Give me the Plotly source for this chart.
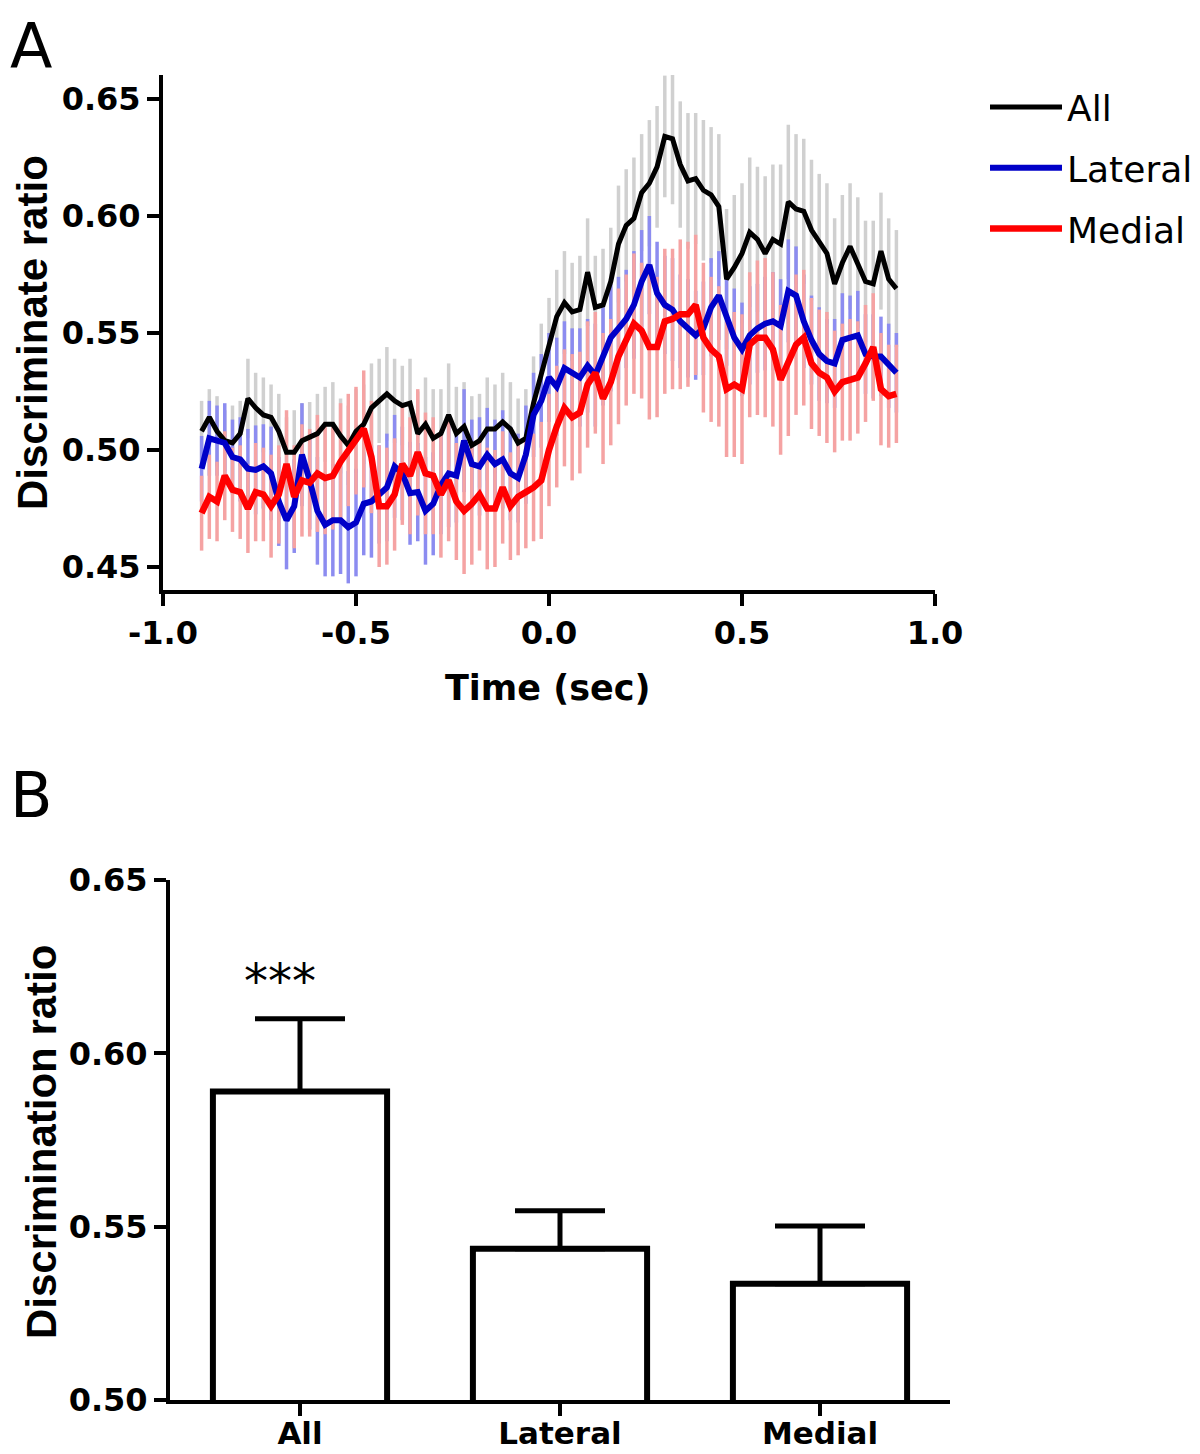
import plotly.graph_objects as go

# ---------------- Panel A data ----------------
TIME = [-0.90, -0.88, -0.86, -0.84, -0.82, -0.80, -0.78, -0.76, -0.74, -0.72,
        -0.70, -0.68, -0.66, -0.64, -0.62, -0.60, -0.58, -0.56, -0.54, -0.52,
        -0.50, -0.48, -0.46, -0.44, -0.42, -0.40, -0.38, -0.36, -0.34, -0.32,
        -0.30, -0.28, -0.26, -0.24, -0.22, -0.20, -0.18, -0.16, -0.14, -0.12,
        -0.10, -0.08, -0.06, -0.04, -0.02, 0.00, 0.02, 0.04, 0.06, 0.08,
        0.10, 0.12, 0.14, 0.16, 0.18, 0.20, 0.22, 0.24, 0.26, 0.28,
        0.30, 0.32, 0.34, 0.36, 0.38, 0.40, 0.42, 0.44, 0.46, 0.48,
        0.50, 0.52, 0.54, 0.56, 0.58, 0.60, 0.62, 0.64, 0.66, 0.68,
        0.70, 0.72, 0.74, 0.76, 0.78, 0.80, 0.82, 0.84, 0.86, 0.88,
        0.90]

ALL_MEAN = [0.508, 0.514, 0.508, 0.504, 0.503, 0.507, 0.522, 0.518, 0.515, 0.514,
            0.508, 0.499, 0.499, 0.504, 0.5055, 0.507, 0.511, 0.511, 0.506, 0.502,
            0.508, 0.511, 0.518, 0.521, 0.524, 0.521, 0.519, 0.520, 0.507, 0.511,
            0.505, 0.507, 0.515, 0.507, 0.510, 0.502, 0.504, 0.509, 0.509, 0.512,
            0.509, 0.503, 0.505, 0.520, 0.532, 0.544, 0.557, 0.563, 0.559, 0.560,
            0.576, 0.561, 0.562, 0.572, 0.588, 0.596, 0.599, 0.610, 0.614, 0.621,
            0.634, 0.633, 0.622, 0.615, 0.616, 0.611, 0.609, 0.604, 0.573, 0.578,
            0.584, 0.593, 0.590, 0.584, 0.590, 0.588, 0.606, 0.603, 0.602, 0.594,
            0.589, 0.584, 0.571, 0.580, 0.587, 0.580, 0.572, 0.571, 0.585, 0.573,
            0.569]

ALL_SEM = [0.013, 0.012, 0.015, 0.013, 0.016, 0.014, 0.017, 0.015, 0.016, 0.014,
           0.016, 0.015, 0.018, 0.016, 0.015, 0.017, 0.016, 0.018, 0.016, 0.017,
           0.018, 0.017, 0.019, 0.018, 0.020, 0.018, 0.017, 0.019, 0.018, 0.020,
           0.021, 0.019, 0.022, 0.020, 0.019, 0.021, 0.020, 0.022, 0.019, 0.021,
           0.020, 0.019, 0.021, 0.020, 0.022, 0.021, 0.020, 0.022, 0.021, 0.023,
           0.023, 0.022, 0.024, 0.023, 0.025, 0.024, 0.026, 0.025, 0.027, 0.026,
           0.026, 0.028, 0.027, 0.029, 0.028, 0.030, 0.029, 0.031, 0.030, 0.031,
           0.030, 0.032, 0.031, 0.033, 0.032, 0.034, 0.033, 0.032, 0.031, 0.030,
           0.029, 0.030, 0.028, 0.029, 0.027, 0.028, 0.026, 0.027, 0.025, 0.026,
           0.025]

LATERAL_MEAN = [0.492, 0.505, 0.504, 0.503, 0.497, 0.496, 0.492, 0.4915, 0.493, 0.490,
                0.478, 0.470, 0.476, 0.498, 0.487, 0.474, 0.468, 0.470, 0.470, 0.467,
                0.469, 0.477, 0.478, 0.481, 0.484, 0.493, 0.490, 0.4815, 0.482, 0.474,
                0.477, 0.485, 0.490, 0.489, 0.504, 0.494, 0.493, 0.498, 0.494, 0.496,
                0.490, 0.488, 0.498, 0.515, 0.521, 0.531, 0.527, 0.535, 0.533, 0.531,
                0.536, 0.532, 0.540, 0.548, 0.552, 0.556, 0.562, 0.572, 0.579, 0.567,
                0.562, 0.560, 0.555, 0.552, 0.549, 0.552, 0.561, 0.566, 0.556, 0.548,
                0.543, 0.549, 0.552, 0.554, 0.555, 0.553, 0.568, 0.566, 0.555, 0.547,
                0.541, 0.538, 0.537, 0.547, 0.548, 0.549, 0.541, 0.540, 0.540, 0.536,
                0.533]

LATERAL_SEM = [0.014, 0.016, 0.015, 0.017, 0.016, 0.018, 0.017, 0.019, 0.018, 0.020,
               0.019, 0.021, 0.020, 0.022, 0.021, 0.023, 0.022, 0.024, 0.023, 0.024,
               0.023, 0.022, 0.024, 0.021, 0.023, 0.022, 0.020, 0.022, 0.021, 0.023,
               0.022, 0.021, 0.023, 0.020, 0.022, 0.019, 0.021, 0.020, 0.019, 0.021,
               0.020, 0.019, 0.021, 0.018, 0.020, 0.019, 0.021, 0.020, 0.019, 0.021,
               0.020, 0.022, 0.021, 0.023, 0.022, 0.021, 0.023, 0.022, 0.021, 0.022,
               0.021, 0.022, 0.020, 0.021, 0.019, 0.020, 0.021, 0.019, 0.020, 0.021,
               0.020, 0.021, 0.019, 0.020, 0.021, 0.020, 0.022, 0.021, 0.020, 0.019,
               0.020, 0.018, 0.019, 0.020, 0.018, 0.019, 0.017, 0.018, 0.017, 0.018,
               0.017]

MEDIAL_MEAN = [0.473, 0.480, 0.478, 0.489, 0.483, 0.482, 0.475, 0.482, 0.481, 0.476,
               0.481, 0.494, 0.480, 0.487, 0.486, 0.490, 0.488, 0.489, 0.495, 0.500,
               0.504, 0.509, 0.497, 0.476, 0.476, 0.481, 0.494, 0.489, 0.499, 0.490,
               0.489, 0.481, 0.487, 0.478, 0.474, 0.477, 0.481, 0.475, 0.475, 0.484,
               0.476, 0.480, 0.482, 0.484, 0.487, 0.500, 0.510, 0.518, 0.514, 0.516,
               0.528, 0.533, 0.522, 0.529, 0.540, 0.547, 0.554, 0.551, 0.544, 0.544,
               0.555, 0.556, 0.558, 0.558, 0.562, 0.548, 0.543, 0.540, 0.526, 0.528,
               0.526, 0.545, 0.548, 0.548, 0.543, 0.530, 0.537, 0.545, 0.548, 0.537,
               0.533, 0.531, 0.525, 0.529, 0.530, 0.531, 0.537, 0.544, 0.526, 0.523,
               0.524]

MEDIAL_SEM = [0.016, 0.018, 0.017, 0.019, 0.018, 0.020, 0.019, 0.021, 0.020, 0.022,
              0.021, 0.023, 0.022, 0.024, 0.023, 0.025, 0.024, 0.023, 0.025, 0.024,
              0.023, 0.025, 0.024, 0.026, 0.025, 0.024, 0.026, 0.025, 0.027, 0.026,
              0.025, 0.027, 0.026, 0.025, 0.027, 0.026, 0.024, 0.026, 0.025, 0.024,
              0.023, 0.025, 0.024, 0.023, 0.025, 0.024, 0.026, 0.025, 0.027, 0.026,
              0.027, 0.026, 0.028, 0.027, 0.029, 0.028, 0.030, 0.029, 0.031, 0.030,
              0.031, 0.030, 0.032, 0.031, 0.030, 0.032, 0.031, 0.030, 0.029, 0.031,
              0.032, 0.031, 0.033, 0.034, 0.033, 0.032, 0.031, 0.030, 0.029, 0.028,
              0.027, 0.028, 0.026, 0.025, 0.026, 0.024, 0.025, 0.023, 0.024, 0.022,
              0.021]

X_TICK_VALUES = [-1.0, -0.5, 0.0, 0.5, 1.0]
X_TICK_LABELS = ["-1.0", "-0.5", "0.0", "0.5", "1.0"]
Y_TICK_VALUES_A = [0.45, 0.50, 0.55, 0.60, 0.65]

# ---------------- Panel B data ----------------
BAR_CATEGORIES = ["All", "Lateral", "Medial"]
BAR_VALUES = [0.589, 0.5436, 0.5335]
BAR_ERRORS = [0.021, 0.011, 0.0167]
Y_TICK_VALUES_B = [0.50, 0.55, 0.60, 0.65]

SERIES = [
    ("All", ALL_MEAN, ALL_SEM, "#000000", "#d0d0d0", 5),
    ("Lateral", LATERAL_MEAN, LATERAL_SEM, "#0000c8", "#8c8cf0", 6),
    ("Medial", MEDIAL_MEAN, MEDIAL_SEM, "#ff0000", "#f5a3a3", 6.5),
]

# The page body has an 8px margin, so the figure is drawn 8px in from the corner.
OFF = 8
FIG_W, FIG_H = 1200 - OFF, 1454 - OFF


def px_x(p):
    return (p - OFF) / FIG_W


def px_y(p):
    return 1 - (p - OFF) / FIG_H


BOLD = "DejaVu Sans"
TICKFONT = dict(family=BOLD, size=32, color="black", weight="bold")

fig = go.Figure()

# error bars first (below all lines)
for name, mean, sem, lc, ec, lw in SERIES:
    fig.add_trace(go.Scatter(
        x=TIME, y=mean, mode="markers",
        marker=dict(size=1, opacity=0, color=lc),
        error_y=dict(type="data", array=sem, visible=True, color=ec, thickness=3.5, width=0),
        showlegend=False, hoverinfo="skip", xaxis="x", yaxis="y"))

for name, mean, sem, lc, ec, lw in SERIES:
    fig.add_trace(go.Scatter(
        x=TIME, y=mean, mode="lines", name=name, legendgroup=name,
        line=dict(color=lc, width=lw), xaxis="x", yaxis="y"))

fig.add_trace(go.Bar(
    x=BAR_CATEGORIES, y=BAR_VALUES, width=0.67,
    marker=dict(color="white", line=dict(color="black", width=6)),
    error_y=dict(type="data", symmetric=False, array=BAR_ERRORS,
                 arrayminus=[0 for _ in BAR_ERRORS], color="black", thickness=5, width=45),
    showlegend=False, xaxis="x2", yaxis="y2"))

axis_common = dict(showline=True, linewidth=4, linecolor="black", ticks="outside",
                   ticklen=12, tickwidth=4, tickcolor="black", showgrid=False,
                   zeroline=False, tickfont=TICKFONT, automargin=False)

fig.update_layout(
    width=FIG_W, height=FIG_H,
    margin=dict(l=0, r=0, t=0, b=0, autoexpand=False),
    plot_bgcolor="white", paper_bgcolor="white",
    xaxis=dict(domain=[px_x(163), px_x(935)], range=[-1, 1], anchor="y",
               tickvals=X_TICK_VALUES, ticktext=X_TICK_LABELS, **axis_common),
    yaxis=dict(domain=[px_y(590), px_y(75)], range=[0.44017, 0.66026], anchor="x",
               tickvals=Y_TICK_VALUES_A, tickformat=".2f", **axis_common),
    xaxis2=dict(domain=[px_x(170), px_x(950)], range=[-0.5, 2.5], anchor="y2",
                type="category", **axis_common),
    yaxis2=dict(domain=[px_y(1400), px_y(880)], range=[0.50, 0.65], anchor="x2",
                tickvals=Y_TICK_VALUES_B, tickformat=".2f", **axis_common),
    legend=dict(x=px_x(985), y=px_y(77), xanchor="left", yanchor="top",
                xref="container", yref="container",
                font=dict(family="DejaVu Sans", size=36, color="black"),
                tracegroupgap=11, bgcolor="rgba(0,0,0,0)", itemwidth=72),
    showlegend=True,
)
fig.update_xaxes(selector=dict(anchor="y2"), tickfont=dict(size=31), ticklabelstandoff=-9)

annotations = [
    dict(text="A", x=px_x(9), y=px_y(9), xref="paper", yref="paper", xanchor="left", yanchor="top",
         showarrow=False, borderpad=0, font=dict(family="DejaVu Sans", size=62, color="black")),
    dict(text="B", x=px_x(9), y=px_y(758), xref="paper", yref="paper", xanchor="left", yanchor="top",
         showarrow=False, borderpad=0, font=dict(family="DejaVu Sans", size=62, color="black")),
    dict(text="Discriminate ratio", x=px_x(33), y=px_y(333), xref="paper", yref="paper",
         xanchor="center", yanchor="middle", textangle=-90, showarrow=False,
         font=dict(family="Liberation Sans", size=42, color="black", weight="bold")),
    dict(text="Time (sec)", x=px_x(548), y=px_y(688), xref="paper", yref="paper",
         xanchor="center", yanchor="middle", showarrow=False,
         font=dict(family=BOLD, size=35, color="black", weight="bold")),
    dict(text="Discrimination ratio", x=px_x(41), y=px_y(1142), xref="paper", yref="paper",
         xanchor="center", yanchor="middle", textangle=-90, showarrow=False,
         font=dict(family="Liberation Sans", size=42, color="black", weight="bold")),
    dict(text="***", x=BAR_CATEGORIES[0], y=BAR_VALUES[0] + BAR_ERRORS[0] + 0.011,
         xref="x2", yref="y2", xshift=-20, showarrow=False,
         font=dict(family="DejaVu Sans", size=48, color="black")),
]
fig.update_layout(annotations=annotations)

fig.write_html("out.html")
